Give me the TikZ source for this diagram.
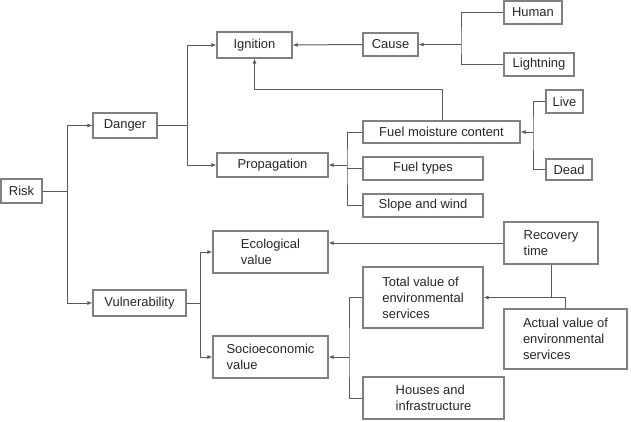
\documentclass[tikz,border=0pt]{standalone}
\usepackage{fontspec}
\setmainfont{Liberation Sans}
\usetikzlibrary{arrows.meta}
\begin{document}
\begin{tikzpicture}[x=1bp,y=-1bp,
  font=\fontsize{13}{16}\selectfont,
  box/.style={draw=black!50, line width=1.1bp, inner sep=0pt, align=left, text=black!85},
  conn/.style={draw=black!65, line width=1bp},
  arr/.style={conn, -{Latex[length=5bp,width=4bp]}}]
\useasboundingbox (0,0) rectangle (631,421);
\newcommand{\bx}[6]{\node[box, minimum width=#4 bp, minimum height=#5 bp] (#1) at (#2,#3) {#6};}
\bx{risk}{21.5}{191}{41}{24}{Risk}
\bx{danger}{125}{125.5}{64}{25}{Danger}
\bx{ign}{254.5}{45}{75}{26}{Ignition}
\bx{prop}{272.5}{165}{111}{24}{Propagation}
\bx{cause}{390.5}{44.5}{55}{23}{Cause}
\bx{human}{533}{12.5}{58}{23}{Human}
\bx{light}{539}{64.5}{70}{23}{Lightning}
\bx{fmc}{441.5}{132}{157}{22}{Fuel moisture content}
\bx{live}{564.5}{101.5}{37}{23}{Live}
\bx{dead}{569}{169.5}{46}{21}{Dead}
\bx{ftype}{423}{168.5}{120}{23}{Fuel types}
\bx{slope}{423}{205.5}{120}{23}{Slope and wind}
\bx{vul}{139.5}{303}{93}{26}{Vulnerability}
\bx{eco}{270.5}{252}{115}{42}{Ecological\\value}
\bx{soc}{270.5}{357}{115}{42}{Socioeconomic\\value}
\bx{rec}{551}{243}{94}{42}{Recovery\\time}
\bx{tot}{423}{297.5}{120}{61}{Total value of\\environmental\\services}
\bx{act}{565.5}{339}{123}{60}{Actual value of\\environmental\\services}
\bx{hou}{433.5}{398}{141}{42}{Houses and\\infrastructure}
% junctions
\coordinate (j1) at (67,191);
\coordinate (j2) at (187,125.5);
\coordinate (j3) at (461,44.5);
\coordinate (j4) at (533,132);
\coordinate (j5) at (347,165);
\coordinate (j6) at (200,303);
\coordinate (j7) at (349,357);
\coordinate (fb) at (442,89);
\coordinate (k) at (rec.south |- tot.east);
% connectors
\draw[conn] (risk.east) -- (j1);
\draw[arr] (j1) |- (danger.west);
\draw[arr] (j1) |- (vul.west);
\draw[conn] (danger.east) -- (j2);
\draw[arr] (j2) |- (ign.west);
\draw[arr] (j2) |- (prop.west);
\draw[arr] (cause.west) -- (ign.east);
\draw[conn] (human.west) -| (j3) |- (light.west);
\draw[arr] (j3) -- (cause.east);
\draw[arr] (fmc.north -| fb) -- (fb) -| (ign.south);
\draw[conn] (live.west) -| (j4) |- (dead.west);
\draw[arr] (j4) -- (fmc.east);
\draw[conn] (fmc.west) -| (j5) |- (slope.west);
\draw[conn] (ftype.west) -- (ftype.west -| j5);
\draw[arr] (j5) -- (prop.east);
\draw[conn] (vul.east) -- (j6);
\draw[arr] (j6) |- (eco.west);
\draw[arr] (j6) |- (soc.west);
\draw[arr] (rec.west) -- (rec.west -| eco.east);
\draw[arr] (rec.south) -- (k) -- (tot.east);
\draw[conn] (act.north) |- (k);
\draw[conn] (tot.west) -| (j7) |- (hou.west);
\draw[arr] (j7) -- (soc.east);
\end{tikzpicture}
\end{document}
